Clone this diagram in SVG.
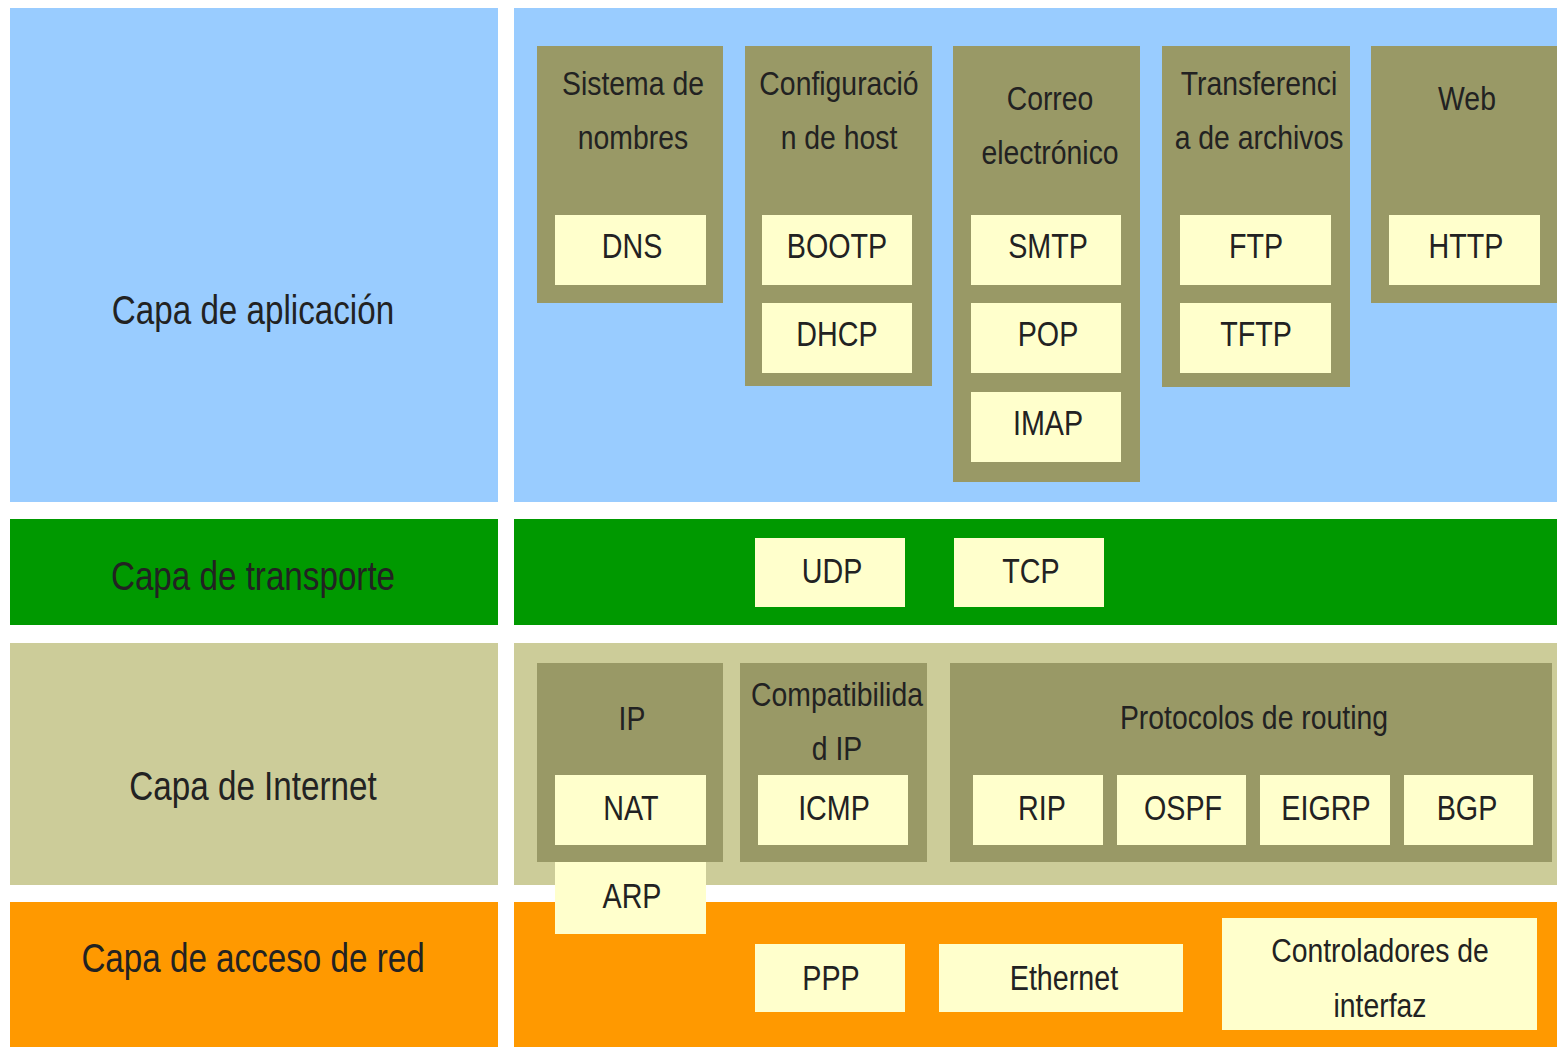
<svg xmlns="http://www.w3.org/2000/svg" width="1557" height="1047" viewBox="0 0 1557 1047">
<style>
text{font-family:"Liberation Sans Narrow","Liberation Sans",Arial,sans-serif;fill:#222;text-anchor:middle}
.lbl{font-size:40px}
.t{font-size:33px}
.p{font-size:35px}
.app{fill:#99CCFF}
.tra{fill:#009900}
.int{fill:#CCCC99}
.acc{fill:#FF9900}
.grp{fill:#999966}
.box{fill:#FFFFCC}
</style>
<rect width="1557" height="1047" fill="#FFFFFF"/>
<g id="layers">
<rect class="app" x="10" y="8" width="488" height="494"/>
<rect class="app" x="514" y="8" width="1043" height="494"/>
<rect class="tra" x="10" y="519" width="488" height="106"/>
<rect class="tra" x="514" y="519" width="1043" height="106"/>
<rect class="int" x="10" y="643" width="488" height="242"/>
<rect class="int" x="514" y="643" width="1043" height="242"/>
<rect class="acc" x="10" y="902" width="488" height="145"/>
<rect class="acc" x="514" y="902" width="1043" height="145"/>
</g>
<g id="layer-labels">
<text class="lbl" transform="matrix(0.83 0 0 1 253 0)" x="0" y="324">Capa de aplicación</text>
<text class="lbl" transform="matrix(0.83 0 0 1 253 0)" x="0" y="590">Capa de transporte</text>
<text class="lbl" transform="matrix(0.83 0 0 1 253 0)" x="0" y="800">Capa de Internet</text>
<text class="lbl" transform="matrix(0.83 0 0 1 253 0)" x="0" y="972">Capa de acceso de red</text>
</g>
<g id="g-nombres">
<rect class="grp" x="537" y="46" width="186" height="257"/>
<text class="t" transform="matrix(0.86 0 0 1 633 0)" x="0" y="95">Sistema de</text>
<text class="t" transform="matrix(0.86 0 0 1 633 0)" x="0" y="149">nombres</text>
<rect class="box" x="555" y="215" width="151" height="70"/>
<text class="p" transform="matrix(0.82 0 0 1 632 0)" x="0" y="258">DNS</text>
</g>
<g id="g-host">
<rect class="grp" x="745" y="46" width="187" height="340"/>
<text class="t" transform="matrix(0.86 0 0 1 839 0)" x="0" y="95">Configuració</text>
<text class="t" transform="matrix(0.86 0 0 1 839 0)" x="0" y="149">n de host</text>
<rect class="box" x="762" y="215" width="150" height="70"/>
<text class="p" transform="matrix(0.82 0 0 1 837 0)" x="0" y="258">BOOTP</text>
<rect class="box" x="762" y="303" width="150" height="70"/>
<text class="p" transform="matrix(0.82 0 0 1 837 0)" x="0" y="346">DHCP</text>
</g>
<g id="g-correo">
<rect class="grp" x="953" y="46" width="187" height="436"/>
<text class="t" transform="matrix(0.86 0 0 1 1050 0)" x="0" y="110">Correo</text>
<text class="t" transform="matrix(0.86 0 0 1 1050 0)" x="0" y="164">electrónico</text>
<rect class="box" x="971" y="215" width="150" height="70"/>
<text class="p" transform="matrix(0.82 0 0 1 1048 0)" x="0" y="258">SMTP</text>
<rect class="box" x="971" y="303" width="150" height="70"/>
<text class="p" transform="matrix(0.82 0 0 1 1048 0)" x="0" y="346">POP</text>
<rect class="box" x="971" y="392" width="150" height="70"/>
<text class="p" transform="matrix(0.82 0 0 1 1048 0)" x="0" y="435">IMAP</text>
</g>
<g id="g-transferencia">
<rect class="grp" x="1162" y="46" width="188" height="341"/>
<text class="t" transform="matrix(0.86 0 0 1 1259 0)" x="0" y="95">Transferenci</text>
<text class="t" transform="matrix(0.86 0 0 1 1259 0)" x="0" y="149">a de archivos</text>
<rect class="box" x="1180" y="215" width="151" height="70"/>
<text class="p" transform="matrix(0.82 0 0 1 1256 0)" x="0" y="258">FTP</text>
<rect class="box" x="1180" y="303" width="151" height="70"/>
<text class="p" transform="matrix(0.82 0 0 1 1256 0)" x="0" y="346">TFTP</text>
</g>
<g id="g-web">
<rect class="grp" x="1371" y="46" width="186" height="257"/>
<text class="t" transform="matrix(0.86 0 0 1 1467 0)" x="0" y="110">Web</text>
<rect class="box" x="1389" y="215" width="151" height="70"/>
<text class="p" transform="matrix(0.82 0 0 1 1466 0)" x="0" y="258">HTTP</text>
</g>
<g id="g-udp">
<rect class="box" x="755" y="538" width="150" height="69"/>
<text class="p" transform="matrix(0.82 0 0 1 832 0)" x="0" y="583">UDP</text>
</g>
<g id="g-tcp">
<rect class="box" x="954" y="538" width="150" height="69"/>
<text class="p" transform="matrix(0.82 0 0 1 1031 0)" x="0" y="583">TCP</text>
</g>
<g id="g-ip">
<rect class="grp" x="537" y="663" width="186" height="199"/>
<text class="t" transform="matrix(0.86 0 0 1 632 0)" x="0" y="730">IP</text>
<rect class="box" x="555" y="775" width="151" height="70"/>
<text class="p" transform="matrix(0.82 0 0 1 631 0)" x="0" y="820">NAT</text>
</g>
<g id="g-compat">
<rect class="grp" x="740" y="663" width="187" height="199"/>
<text class="t" transform="matrix(0.86 0 0 1 837 0)" x="0" y="706">Compatibilida</text>
<text class="t" transform="matrix(0.86 0 0 1 837 0)" x="0" y="760">d IP</text>
<rect class="box" x="758" y="775" width="150" height="70"/>
<text class="p" transform="matrix(0.82 0 0 1 834 0)" x="0" y="820">ICMP</text>
</g>
<g id="g-routing">
<rect class="grp" x="950" y="663" width="602" height="199"/>
<text class="t" transform="matrix(0.86 0 0 1 1254 0)" x="0" y="729">Protocolos de routing</text>
<rect class="box" x="973" y="775" width="130" height="70"/>
<text class="p" transform="matrix(0.82 0 0 1 1042 0)" x="0" y="820">RIP</text>
<rect class="box" x="1117" y="775" width="129" height="70"/>
<text class="p" transform="matrix(0.82 0 0 1 1183 0)" x="0" y="820">OSPF</text>
<rect class="box" x="1260" y="775" width="130" height="70"/>
<text class="p" transform="matrix(0.82 0 0 1 1326 0)" x="0" y="820">EIGRP</text>
<rect class="box" x="1404" y="775" width="129" height="70"/>
<text class="p" transform="matrix(0.82 0 0 1 1467 0)" x="0" y="820">BGP</text>
</g>
<g id="g-arp">
<rect class="box" x="555" y="862" width="151" height="72"/>
<text class="p" transform="matrix(0.82 0 0 1 632 0)" x="0" y="908">ARP</text>
</g>
<g id="g-ppp">
<rect class="box" x="755" y="944" width="150" height="68"/>
<text class="p" transform="matrix(0.82 0 0 1 831 0)" x="0" y="990">PPP</text>
</g>
<g id="g-ethernet">
<rect class="box" x="939" y="944" width="244" height="68"/>
<text class="p" transform="matrix(0.82 0 0 1 1064 0)" x="0" y="990">Ethernet</text>
</g>
<g id="g-controladores">
<rect class="box" x="1222" y="918" width="315" height="112"/>
<text class="t" transform="matrix(0.86 0 0 1 1380 0)" x="0" y="962">Controladores de</text>
<text class="t" transform="matrix(0.86 0 0 1 1380 0)" x="0" y="1017">interfaz</text>
</g>
<g id="connectors"></g>
</svg>
